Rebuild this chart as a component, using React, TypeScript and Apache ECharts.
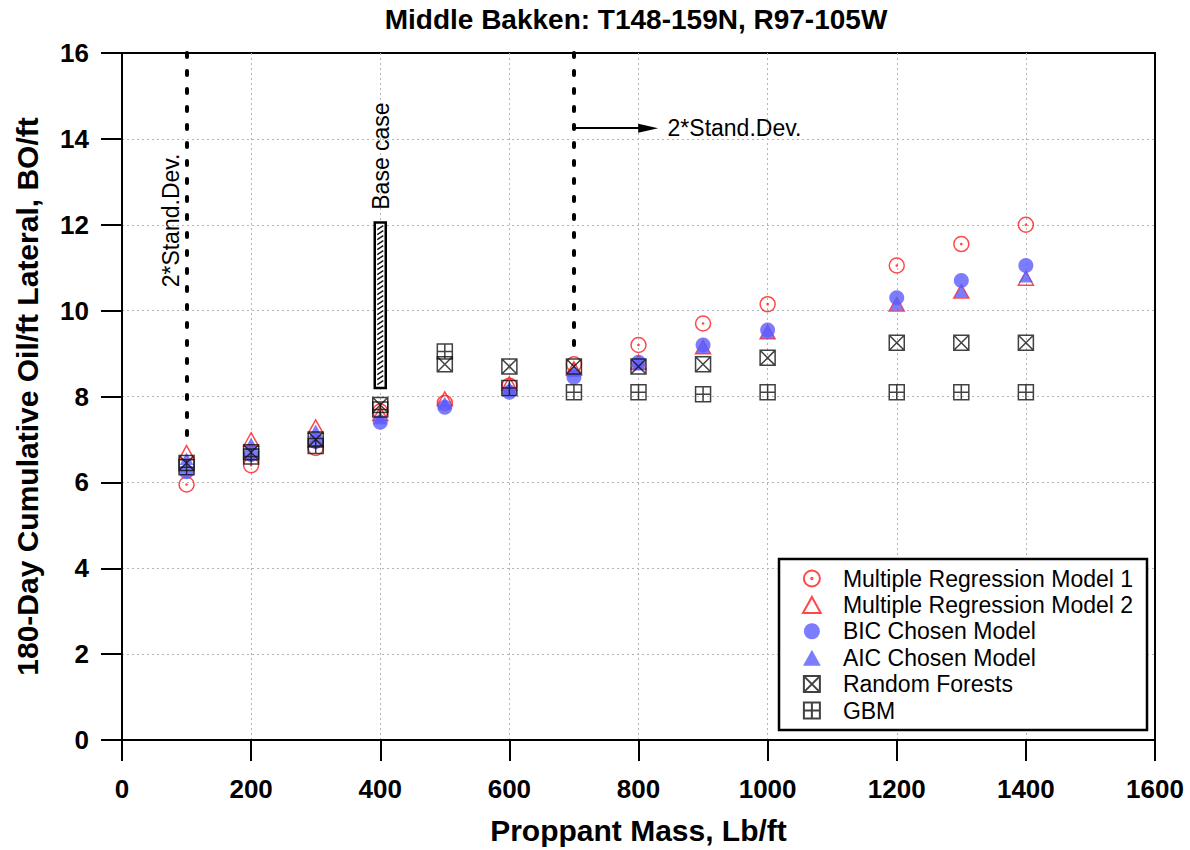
import React, { useEffect, useRef } from 'react';
import * as echarts from 'echarts';

// ---------- data ----------
const proppantMass = [100, 200, 300, 400, 500, 600, 700, 800, 900, 1000, 1200, 1300, 1400];
const mrModel1 = [5.95, 6.4, 6.8, 7.65, 7.85, 8.25, 8.75, 9.2, 9.7, 10.15, 11.05, 11.55, 12.0];
const mrModel2 = [6.7, 7.0, 7.3, 7.6, 7.95, 8.3, 8.65, 8.8, 9.15, 9.5, 10.15, 10.45, 10.75];
const bicModel = [6.25, 6.65, 6.95, 7.4, 7.75, 8.1, 8.45, 8.8, 9.2, 9.55, 10.3, 10.7, 11.05];
const aicModel = [6.55, 6.9, 7.2, 7.5, 7.85, 8.2, 8.6, 8.75, 9.15, 9.5, 10.15, 10.45, 10.8];
const randomForests = [6.45, 6.7, 7.0, 7.8, 8.75, 8.7, 8.7, 8.7, 8.75, 8.9, 9.25, 9.25, 9.25];
const gbm = [6.35, 6.6, 6.85, 7.7, 9.05, 8.2, 8.1, 8.1, 8.05, 8.1, 8.1, 8.1, 8.1];

const seriesNames = [
  'Multiple Regression Model 1',
  'Multiple Regression Model 2',
  'BIC Chosen Model',
  'AIC Chosen Model',
  'Random Forests',
  'GBM',
];

// annotations (data coordinates)
const baseCase = [400, 8.2, 12.05]; // x, low, high
const sdLow = 100;
const sdHigh = 700;
const sdLowEnd = 7.1;
const sdHighEnd = 9.15;
const arrowY = 14.25;
const arrowEndX = 815;
const annotationTexts = ['2*Stand.Dev.', 'Base case', '2*Stand.Dev.'];
const annotationPos = [
  [76, 12.1],
  [401, 13.6],
  [845, arrowY],
];

const FONT = "'Liberation Sans', Arial, Helvetica, sans-serif";
const BLUE = '#5b5bff';
const RED = '#ff1a1a';

const SYM_CIRCLE_DOT =
  'path://M20,10A10,10 0 1 1 0,10A10,10 0 1 1 20,10Z M10.8,10A0.8,0.8 0 1 1 9.2,10A0.8,0.8 0 1 1 10.8,10Z';
const SYM_TRI = 'path://M10,0L20,18L0,18Z';
const SYM_BOX_X = 'path://M0,0H20V20H0Z M0,0L20,20 M20,0L0,20';
const SYM_BOX_PLUS = 'path://M0,0H20V20H0Z M10,0V20 M0,10H20';

const pairs = (ys: number[]) => proppantMass.map((x, i) => [x, ys[i]]);

export default function App() {
  const ref = useRef<HTMLDivElement>(null);

  useEffect(() => {
    if (!ref.current) return;
    const chart = echarts.init(ref.current, undefined, { renderer: 'svg' });

    const hollow = (c: string) => ({ color: 'rgba(0,0,0,0)', borderColor: c, borderWidth: 1.5 });

    const axisCommon = {
      axisLine: { show: true, onZero: false, lineStyle: { color: '#000', width: 2 } },
      axisTick: { show: true, inside: false, length: 21, lineStyle: { color: '#000', width: 2 } },
      splitLine: {
        show: true,
        showMinLine: false,
        showMaxLine: false,
        lineStyle: { color: '#b4b4b4', type: [2, 3], width: 1 },
      },
      nameLocation: 'middle',
      nameTextStyle: { fontSize: 30, fontWeight: 'bold', color: '#000', fontFamily: FONT },
    };

    const option: any = {
      animation: false,
      backgroundColor: '#fff',
      title: {
        text: 'Middle Bakken: T148-159N, R97-105W',
        left: 631,
        top: 0,
        textAlign: 'center',
        textStyle: { fontSize: 28, fontWeight: 'bold', color: '#000', fontFamily: FONT },
      },
      grid: {
        left: 122,
        top: 53,
        width: 1033,
        height: 691,
        show: true,
        borderColor: '#000',
        borderWidth: 2,
        backgroundColor: 'transparent',
      },
      xAxis: {
        ...axisCommon,
        type: 'value',
        min: 0,
        max: 1600,
        interval: 200,
        name: 'Proppant Mass, Lb/ft',
        nameGap: 75,
        axisLabel: {
          margin: 36,
          fontSize: 26,
          fontWeight: 'bold',
          color: '#000',
          fontFamily: FONT,
          formatter: (v: number) => String(v),
        },
      },
      yAxis: {
        ...axisCommon,
        type: 'value',
        min: 0,
        max: 16,
        interval: 2,
        name: '180-Day Cumulative Oil/ft Lateral, BO/ft',
        nameGap: 80,
        axisLabel: {
          margin: 33,
          fontSize: 26,
          fontWeight: 'bold',
          color: '#000',
          fontFamily: FONT,
          formatter: (v: number) => String(v),
        },
      },
      legend: {
        data: seriesNames,
        orient: 'vertical',
        left: 802,
        top: 567,
        padding: 0,
        itemWidth: 52,
        itemHeight: 16,
        itemGap: 3.4,
        z: 10,
        selectedMode: false,
        textStyle: { fontSize: 23, lineHeight: 22, color: '#000', fontFamily: FONT },
      },
      series: [
        {
          type: 'custom',
          name: 'Base case bar',
          silent: true,
          data: [baseCase],
          encode: { x: 0, y: [1, 2] },
          renderItem: (params: any, api: any) => {
            const top = api.coord([api.value(0), api.value(2)]);
            const bot = api.coord([api.value(0), api.value(1)]);
            const w = 11;
            const x0 = top[0] - w / 2;
            const children: any[] = [
              {
                type: 'rect',
                shape: { x: x0, y: top[1], width: w, height: bot[1] - top[1] },
                style: { fill: '#fff', stroke: '#000', lineWidth: 2.5 },
              },
            ];
            for (let y = top[1] + 3; y < bot[1] - 4; y += 5) {
              children.push({
                type: 'line',
                shape: { x1: x0 + 2.5, y1: y + 4, x2: x0 + w - 2.5, y2: y },
                style: { stroke: '#111', lineWidth: 1.4 },
              });
            }
            return { type: 'group', children };
          },
        },
        {
          type: 'line',
          name: 'guides',
          silent: true,
          data: [],
          markLine: {
            silent: true,
            animation: false,
            symbol: ['none', 'none'],
            label: { show: false },
            lineStyle: { color: '#000', width: 4, type: [4, 14], cap: 'round' },
            data: [
              [{ coord: [sdLow, 16] }, { coord: [sdLow, sdLowEnd] }],
              [{ coord: [sdHigh, 16] }, { coord: [sdHigh, sdHighEnd] }],
              [
                { coord: [sdHigh, arrowY], lineStyle: { type: 'solid', width: 2, cap: 'butt', color: '#000' } },
                { coord: [arrowEndX, arrowY], symbol: 'triangle', symbolSize: [9, 20] },
              ],
            ],
          },
        },
        {
          type: 'scatter',
          name: seriesNames[0],
          symbol: SYM_CIRCLE_DOT,
          symbolSize: 15,
          symbolKeepAspect: true,
          itemStyle: hollow(RED),
          data: pairs(mrModel1),
        },
        {
          type: 'scatter',
          name: seriesNames[1],
          symbol: SYM_TRI,
          symbolSize: 15,
          symbolKeepAspect: true,
          itemStyle: hollow(RED),
          data: pairs(mrModel2),
        },
        {
          type: 'scatter',
          name: seriesNames[2],
          symbol: 'circle',
          symbolSize: 15,
          symbolKeepAspect: true,
          itemStyle: { color: BLUE },
          data: pairs(bicModel),
        },
        {
          type: 'scatter',
          name: seriesNames[3],
          symbol: SYM_TRI,
          symbolSize: 14,
          symbolKeepAspect: true,
          itemStyle: { color: BLUE },
          data: pairs(aicModel),
        },
        {
          type: 'scatter',
          name: seriesNames[4],
          symbol: SYM_BOX_X,
          symbolSize: 15,
          symbolKeepAspect: true,
          itemStyle: hollow('#111'),
          data: pairs(randomForests),
        },
        {
          type: 'scatter',
          name: seriesNames[5],
          symbol: SYM_BOX_PLUS,
          symbolSize: 15,
          symbolKeepAspect: true,
          itemStyle: hollow('#111'),
          data: pairs(gbm),
        },
      ],
    };

    chart.setOption(option);

    const px = (p: number[]) => chart.convertToPixel({ gridIndex: 0 }, p) as number[];
    const textStyle = { fontSize: 23, fill: '#000', fontFamily: FONT };
    const pts = annotationPos.map(px);
    chart.setOption({
      graphic: [
        {
          type: 'rect',
          z: 3,
          silent: true,
          shape: { x: 779, y: 559, width: 368, height: 171 },
          style: { fill: '#fff', stroke: '#000', lineWidth: 2.5 },
        },
        {
          type: 'text',
          z: 5,
          silent: true,
          x: pts[0][0],
          y: pts[0][1],
          rotation: Math.PI / 2,
          style: { ...textStyle, text: annotationTexts[0], align: 'center', verticalAlign: 'middle' },
        },
        {
          type: 'text',
          z: 5,
          silent: true,
          x: pts[1][0],
          y: pts[1][1],
          rotation: Math.PI / 2,
          style: { ...textStyle, text: annotationTexts[1], align: 'center', verticalAlign: 'middle' },
        },
        {
          type: 'text',
          z: 5,
          silent: true,
          x: pts[2][0],
          y: pts[2][1],
          style: { ...textStyle, text: annotationTexts[2], align: 'left', verticalAlign: 'middle' },
        },
      ],
    });

    return () => chart.dispose();
  }, []);

  return (
    <div
      ref={ref}
      style={{ position: 'fixed', left: 0, top: 0, width: 1190, height: 850, background: '#fff' }}
    />
  );
}
